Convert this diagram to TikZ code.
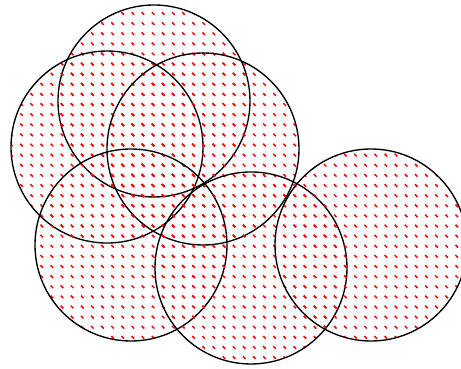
\documentclass[tikz,border=0pt]{standalone}
\usepackage{tikz}
\usetikzlibrary{patterns}

% small slanted marks, one per 6pt tile
\pgfdeclarepatternformonly{tiny marks}{\pgfqpoint{-1pt}{-1pt}}{\pgfqpoint{7pt}{7pt}}{\pgfqpoint{6pt}{6pt}}{
  \pgfsetlinewidth{0.9pt}
  \pgfpathmoveto{\pgfqpoint{0pt}{1.5pt}}
  \pgfpathlineto{\pgfqpoint{1.5pt}{0pt}}
  \pgfusepath{stroke}
}

\tikzset{
  disc/.style={pattern=tiny marks, pattern color=red, draw=black, line width=0.8pt}
}

\begin{document}
\begin{tikzpicture}
  \useasboundingbox (0,0) rectangle (9.604,-7.6875);
  % the six discs
  \filldraw[disc] (3.208,-2.104) circle (2cm);
  \filldraw[disc] (2.229,-3.063) circle (2cm);
  \filldraw[disc] (4.229,-3.104) circle (2cm);
  \filldraw[disc] (2.729,-5.104) circle (2cm);
  \filldraw[disc] (5.229,-5.583) circle (2cm);
  \filldraw[disc] (7.729,-5.104) circle (2cm);
\end{tikzpicture}
\end{document}
